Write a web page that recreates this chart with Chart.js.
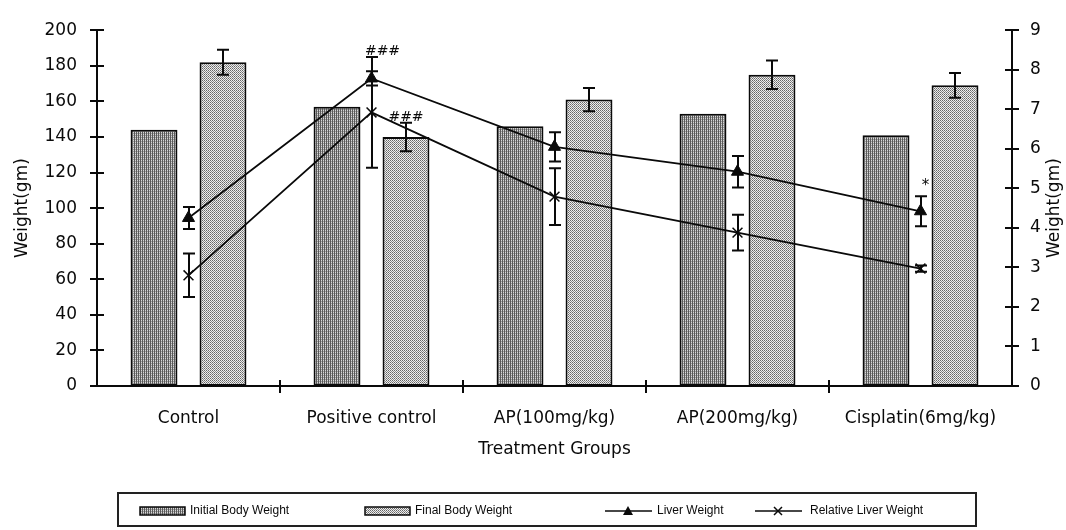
<!DOCTYPE html>
<html><head><meta charset="utf-8">
<script src="https://cdn.jsdelivr.net/npm/chart.js@4/dist/chart.umd.min.js"></script>
<style>html,body{margin:0;padding:0;background:#fff}#wrap{width:1066px;height:530px;position:relative}</style>
</head><body><div id="wrap"><canvas id="c" width="1066" height="530"></canvas></div>
<script>
const categories = ['Control', 'Positive control', 'AP(100mg/kg)', 'AP(200mg/kg)', 'Cisplatin(6mg/kg)'];
const initialBodyWeight = [144, 157, 146, 153, 141];
const finalBodyWeight = [182, 140, 161, 175, 169];
const finalBodyWeightErr = [7, 8, 6.5, 8, 7];
const liverWeight = [4.25, 7.78, 6.05, 5.42, 4.42];
const liverWeightErr = [0.28, 0.18, 0.37, 0.4, 0.38];
const relLiverWeight = [2.8, 6.92, 4.79, 3.88, 2.97];
const relLiverWeightErr = [0.55, 1.4, 0.72, 0.45, 0.08];
const leftAxisTicks = [0, 20, 40, 60, 80, 100, 120, 140, 160, 180, 200];
const rightAxisTicks = [0, 1, 2, 3, 4, 5, 6, 7, 8, 9];
const seriesNames = ['Initial Body Weight', 'Final Body Weight', 'Liver Weight', 'Relative Liver Weight'];
const xTitle = 'Treatment Groups';
const yTitle = 'Weight(gm)';
const y1Title = 'Weight(gm)';
const annText = ['###', '###', '*'];
const annSeries = [3, 1, 2];
const annIndex = [1, 1, 4];

const FONT = 'DejaVu Sans';
const INK = '#0a0a0a';

function makePattern(kind) {
  const c = document.createElement('canvas');
  c.width = 4; c.height = 4;
  const g = c.getContext('2d');
  for (let x = 0; x < 4; x++) {
    for (let y = 0; y < 4; y++) {
      let col;
      if (kind === 'init') {
        col = (x % 2 === 0) ? '#5a5a5a' : ((y % 2 === 0) ? '#d8d8d8' : '#9c9c9c');
      } else {
        col = ((x + y) % 2 === 0 && x % 2 === 0) ? '#666666' : ((x + y) % 2 === 0 ? '#8a8a8a' : '#eeeeee');
      }
      g.fillStyle = col; g.fillRect(x, y, 1, 1);
    }
  }
  return g.createPattern(c, 'repeat');
}

const errPlugin = {
  id: 'errs',
  afterDatasetsDraw(chart) {
    const ctx = chart.ctx;
    const errs = [null, finalBodyWeightErr, liverWeightErr, relLiverWeightErr];
    const vals = [initialBodyWeight, finalBodyWeight, liverWeight, relLiverWeight];
    ctx.save();
    ctx.strokeStyle = INK; ctx.lineWidth = 2;
    errs.forEach((e, di) => {
      if (!e) return;
      const meta = chart.getDatasetMeta(di);
      const sc = chart.scales[meta.yAxisID];
      meta.data.forEach((el, i) => {
        const x = Math.round(el.x);
        const yt = sc.getPixelForValue(vals[di][i] + e[i]);
        const yb = sc.getPixelForValue(vals[di][i] - e[i]);
        ctx.beginPath();
        ctx.moveTo(x, yt); ctx.lineTo(x, yb);
        ctx.moveTo(x - 6, yt); ctx.lineTo(x + 6, yt);
        ctx.moveTo(x - 6, yb); ctx.lineTo(x + 6, yb);
        ctx.stroke();
      });
    });
    ctx.fillStyle = INK;
    ctx.textAlign = 'center';
    ctx.textBaseline = 'alphabetic';
    annText.forEach((t, k) => {
      const di = annSeries[k], i = annIndex[k];
      const meta = chart.getDatasetMeta(di);
      const sc = chart.scales[meta.yAxisID];
      const el = meta.data[i];
      const top = sc.getPixelForValue(vals[di][i] + errs[di][i]);
      if (t === '*') {
        ctx.font = '15px ' + FONT;
        ctx.fillText(t, el.x + 5, top - 6);
      } else {
        ctx.font = '14px ' + FONT;
        ctx.fillText(t, el.x + (di === 3 ? 11 : 0), top - 2);
      }
    });
    ctx.restore();
  }
};

const axisPlugin = {
  id: 'axisMarks',
  afterDraw(chart) {
    const ctx = chart.ctx;
    const {x, y, y1} = chart.scales;
    ctx.save();
    ctx.strokeStyle = INK; ctx.lineWidth = 2;
    ctx.beginPath();
    y.ticks.forEach(t => { const p = Math.round(y.getPixelForValue(t.value)); ctx.moveTo(y.right - 7, p); ctx.lineTo(y.right + 7, p); });
    y1.ticks.forEach(t => { const p = Math.round(y1.getPixelForValue(t.value)); ctx.moveTo(y1.left - 7, p); ctx.lineTo(y1.left + 7, p); });
    for (let i = 1; i < categories.length; i++) {
      const px = Math.round((x.getPixelForValue(i - 1) + x.getPixelForValue(i)) / 2);
      ctx.moveTo(px, x.top - 6); ctx.lineTo(px, x.top + 7);
    }
    ctx.stroke();
    ctx.fillStyle = INK;
    ctx.font = '17px ' + FONT;
    ctx.textAlign = 'center'; ctx.textBaseline = 'middle';
    ctx.translate(1055, (chart.chartArea.top + chart.chartArea.bottom) / 2);
    ctx.rotate(-Math.PI / 2);
    ctx.fillText(y1Title, 0, 0);
    ctx.restore();

    ctx.save();
    ctx.strokeStyle = '#222'; ctx.lineWidth = 2;
    ctx.strokeRect(118, 493, 858, 33);
    const ty = 511;
    const symX = [140, 365, 605, 755];
    const txtX = [190, 415, 657, 810];
    const pats = [chart.data.datasets[0].backgroundColor, chart.data.datasets[1].backgroundColor];
    ctx.font = '12px "Liberation Sans"';
    ctx.textAlign = 'left'; ctx.textBaseline = 'middle';
    seriesNames.forEach((n, k) => {
      const sx = symX[k];
      if (k < 2) {
        ctx.fillStyle = pats[k];
        ctx.fillRect(sx, ty - 4, 45, 8);
        ctx.lineWidth = 1.5; ctx.strokeStyle = INK;
        ctx.strokeRect(sx, ty - 4, 45, 8);
      } else {
        ctx.lineWidth = 1.5; ctx.strokeStyle = INK;
        ctx.beginPath(); ctx.moveTo(sx, ty); ctx.lineTo(sx + 47, ty); ctx.stroke();
        const cx = sx + 23;
        if (k === 2) {
          ctx.fillStyle = INK;
          ctx.beginPath(); ctx.moveTo(cx, ty - 5); ctx.lineTo(cx + 5, ty + 4); ctx.lineTo(cx - 5, ty + 4); ctx.closePath(); ctx.fill();
        } else {
          ctx.beginPath(); ctx.moveTo(cx - 4, ty - 4); ctx.lineTo(cx + 4, ty + 4); ctx.moveTo(cx + 4, ty - 4); ctx.lineTo(cx - 4, ty + 4); ctx.stroke();
        }
      }
      ctx.fillStyle = INK;
      ctx.fillText(n, txtX[k], ty);
    });
    ctx.restore();
  }
};

const ctx = document.getElementById('c').getContext('2d');
const tickFont = {family: FONT, size: 17};
new Chart(ctx, {
  type: 'bar',
  data: {
    labels: categories,
    datasets: [
      {type: 'bar', label: seriesNames[0], data: initialBodyWeight, yAxisID: 'y', backgroundColor: makePattern('init'), borderColor: INK, borderWidth: 2, borderSkipped: false, categoryPercentage: 0.754, barPercentage: 0.68, order: 2},
      {type: 'bar', label: seriesNames[1], data: finalBodyWeight, yAxisID: 'y', backgroundColor: makePattern('final'), borderColor: INK, borderWidth: 2, borderSkipped: false, categoryPercentage: 0.754, barPercentage: 0.68, order: 2},
      {type: 'line', label: seriesNames[2], data: liverWeight, yAxisID: 'y1', borderColor: INK, borderWidth: 1.8, pointStyle: 'triangle', pointRadius: 7, pointBackgroundColor: INK, pointBorderColor: INK, pointBorderWidth: 1, tension: 0, fill: false, order: 1},
      {type: 'line', label: seriesNames[3], data: relLiverWeight, yAxisID: 'y1', borderColor: INK, borderWidth: 1.8, pointStyle: 'crossRot', pointRadius: 7, pointBorderColor: INK, pointBorderWidth: 1.5, tension: 0, fill: false, order: 1}
    ]
  },
  options: {
    responsive: false,
    animation: false,
    layout: {padding: {top: 24, left: 0, right: 0, bottom: 70}},
    plugins: {legend: {display: false}, tooltip: {enabled: false}},
    scales: {
      x: {
        grid: {display: false, drawTicks: false},
        border: {display: true, color: INK, width: 2},
        ticks: {font: tickFont, color: INK, padding: 22, maxRotation: 0, autoSkip: false},
        title: {display: true, text: xTitle, font: tickFont, color: INK, padding: {top: 0, bottom: 0}},
        afterFit(s) { s.height = 74; }
      },
      y: {
        position: 'left', min: 0, max: 200,
        afterBuildTicks(s) { s.ticks = leftAxisTicks.map(v => ({value: v})); },
        grid: {display: false, drawTicks: false},
        border: {display: true, color: INK, width: 2},
        ticks: {font: tickFont, color: INK, padding: 20},
        title: {display: true, text: yTitle, font: tickFont, color: INK, padding: {top: 12, bottom: 0}},
        afterFit(s) { s.width = 97; }
      },
      y1: {
        position: 'right', min: 0, max: 9,
        afterBuildTicks(s) { s.ticks = rightAxisTicks.map(v => ({value: v})); },
        grid: {display: false, drawTicks: false},
        border: {display: true, color: INK, width: 2},
        ticks: {font: tickFont, color: INK, padding: 18},
        title: {display: false},
        afterFit(s) { s.width = 54; }
      }
    }
  },
  plugins: [errPlugin, axisPlugin]
});
</script>
</body></html>
